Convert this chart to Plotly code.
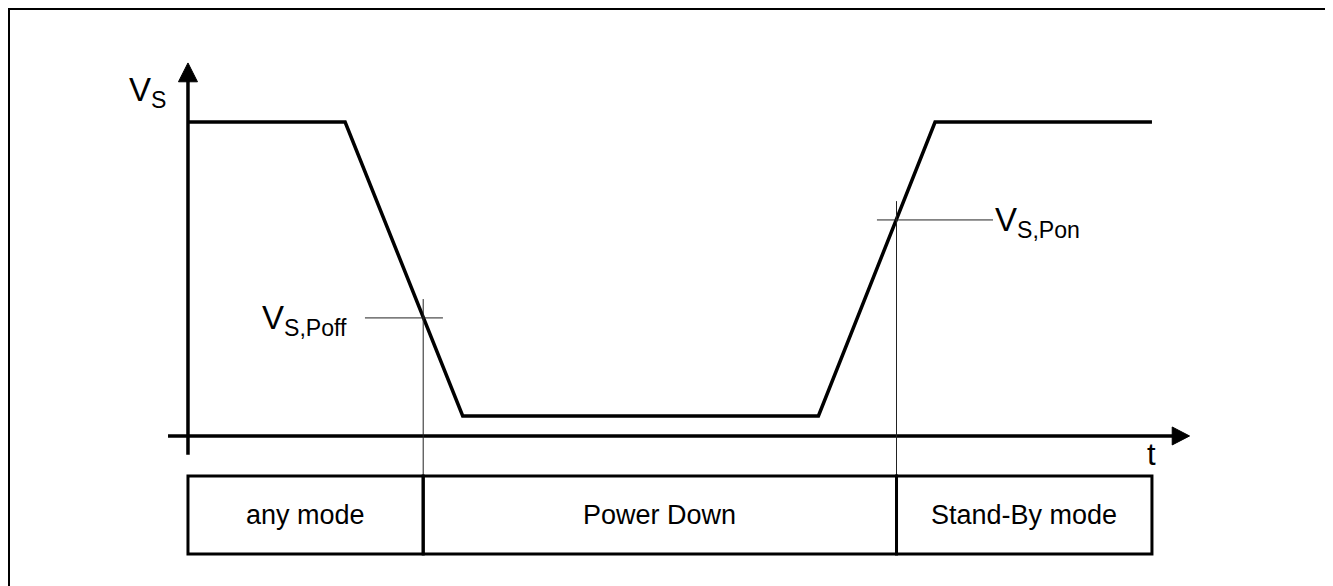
import plotly.graph_objects as go

# ---- data (time in arbitrary units, voltage in arbitrary units) ----
t_wave = [0, 1.63, 2.85, 6.54, 7.75, 10]
v_wave = [5.0, 5.0, 0.32, 0.32, 5.0, 5.0]

T_POFF = 2.44
V_POFF = 1.88
T_PON = 7.35
V_PON = 3.44

mode_labels = ["any mode", "Power Down", "Stand-By mode"]
mode_bounds = [0, T_POFF, T_PON, 10]

threshold_labels = ["V<sub>S,Poff</sub>", "V<sub>S,Pon</sub>"]
axis_labels = ["V<sub>S</sub>", "t"]

# ---- layout helpers ----
# the page body has an 8px margin, so the figure is 8px smaller each way
W, H = 1325, 578
X_RANGE = [-1.867, 11.878]
Y_RANGE = [-2.389, 6.815]
FONT = "Arial, 'Liberation Sans', Helvetica, sans-serif"
BLACK = "#000000"

BOX_TOP, BOX_BOT = -0.637, -1.879
T_END = mode_bounds[-1]

fig = go.Figure()

# waveform
fig.add_trace(go.Scatter(x=t_wave, y=v_wave, mode="lines",
                         line=dict(color=BLACK, width=3.5), hoverinfo="skip"))

# axes (as lines)
fig.add_trace(go.Scatter(x=[-0.207, 10.25], y=[0, 0], mode="lines",
                         line=dict(color=BLACK, width=3.5), hoverinfo="skip"))
fig.add_trace(go.Scatter(x=[0, 0], y=[-0.30, 5.70], mode="lines",
                         line=dict(color=BLACK, width=3.5), hoverinfo="skip"))
# arrow heads
fig.add_trace(go.Scatter(x=[10.21, 10.39, 10.21, 10.21], y=[0.143, 0, -0.143, 0.143],
                         mode="lines", fill="toself", fillcolor=BLACK,
                         line=dict(color=BLACK, width=1), hoverinfo="skip"))
fig.add_trace(go.Scatter(x=[-0.0985, 0, 0.0985, -0.0985], y=[5.64, 5.94, 5.64, 5.64],
                         mode="lines", fill="toself", fillcolor=BLACK,
                         line=dict(color=BLACK, width=1), hoverinfo="skip"))

# threshold crosshairs
thin = dict(color="#222222", width=1)
fig.add_trace(go.Scatter(x=[T_POFF - 0.604, T_POFF + 0.205], y=[V_POFF, V_POFF],
                         mode="lines", line=thin, hoverinfo="skip"))
fig.add_trace(go.Scatter(x=[T_POFF, T_POFF], y=[V_POFF + 0.30, BOX_TOP],
                         mode="lines", line=thin, hoverinfo="skip"))
fig.add_trace(go.Scatter(x=[T_PON - 0.203, T_PON + 1.001], y=[V_PON, V_PON],
                         mode="lines", line=thin, hoverinfo="skip"))
fig.add_trace(go.Scatter(x=[T_PON, T_PON], y=[V_PON + 0.30, BOX_TOP],
                         mode="lines", line=thin, hoverinfo="skip"))

# mode boxes
for i in range(len(mode_labels)):
    fig.add_shape(type="rect", xref="x", yref="y",
                  x0=mode_bounds[i], x1=mode_bounds[i + 1], y0=BOX_BOT, y1=BOX_TOP,
                  line=dict(color=BLACK, width=3))
    fig.add_annotation(x=(mode_bounds[i] + mode_bounds[i + 1]) / 2,
                       y=(BOX_TOP + BOX_BOT) / 2, text=mode_labels[i],
                       showarrow=False, xanchor="center", yanchor="middle",
                       font=dict(family=FONT, size=27, color=BLACK))

# threshold labels
fig.add_annotation(x=T_POFF - 0.77, y=V_POFF, text=threshold_labels[0], showarrow=False,
                   xanchor="right", yanchor="middle", yshift=-2,
                   font=dict(family=FONT, size=33, color=BLACK))
fig.add_annotation(x=T_PON + 1.0, y=V_PON, text=threshold_labels[1], showarrow=False,
                   xanchor="left", yanchor="middle", yshift=-2,
                   font=dict(family=FONT, size=33, color=BLACK))

# axis labels
fig.add_annotation(x=-0.21, y=5.51, text=axis_labels[0], showarrow=False,
                   xanchor="right", yanchor="middle", yshift=-2,
                   font=dict(family=FONT, size=33, color=BLACK))
fig.add_annotation(x=T_END, y=-0.29, text=axis_labels[1], showarrow=False,
                   xanchor="center", yanchor="middle",
                   font=dict(family=FONT, size=31, color=BLACK))

# outer frame (bottom edge cut off in the reference)
fig.add_shape(type="rect", xref="paper", yref="paper",
              x0=1 / W, x1=1323 / W, y0=-0.05, y1=1 - 1 / H,
              line=dict(color=BLACK, width=2))

fig.update_layout(
    width=W, height=H,
    margin=dict(l=0, r=0, t=0, b=0),
    paper_bgcolor="white", plot_bgcolor="white",
    showlegend=False,
    xaxis=dict(range=X_RANGE, visible=False, fixedrange=True),
    yaxis=dict(range=Y_RANGE, visible=False, fixedrange=True),
)

fig.write_html("out.html")
